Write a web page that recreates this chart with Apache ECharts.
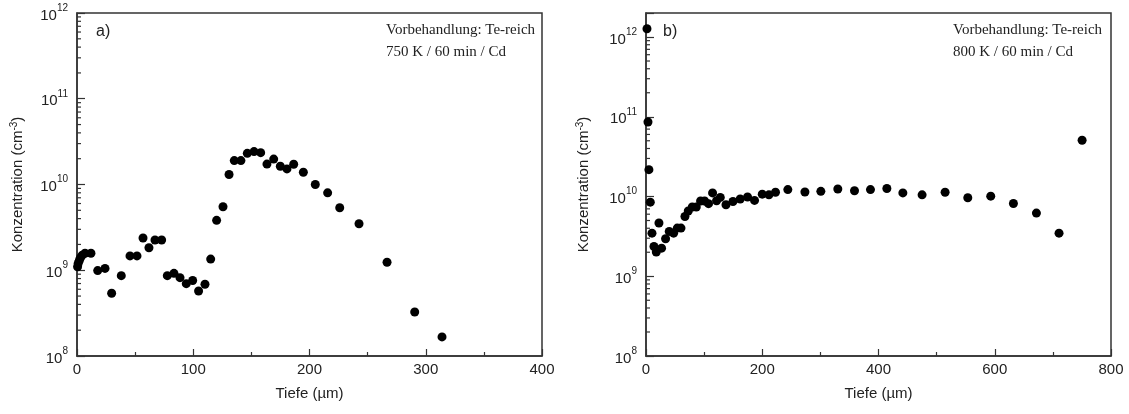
<!DOCTYPE html>
<html>
<head>
<meta charset="utf-8">
<script src="https://cdn.jsdelivr.net/npm/echarts@6/dist/echarts.min.js"></script>
<style>
html, body { margin: 0; padding: 0; background: #fff; }
#chart { width: 1129px; height: 414px; }
</style>
</head>
<body>
<div id="chart"></div>
<script>
// a) 750 K / 60 min / Cd
const depthA = [0.5, 1, 2, 3, 4.5, 6.9, 12, 17.8, 24.1, 29.8, 38.1, 45.6, 51.6, 56.8, 61.9, 67.1, 72.8,
    77.7, 83.4, 88.6, 94, 99.5, 104.6, 110.1, 115, 120.1, 125.6, 130.8, 135.3, 141, 146.5, 152.3, 158,
    163.4, 169.2, 174.9, 180.6, 186.4, 194.7, 205, 215.6, 226, 242.6, 266.7, 290.5, 314]
const concA = [1.1e9, 1.2e9, 1.3e9, 1.4e9, 1.5e9, 1.58e9, 1.58e9, 9.9e8, 1.05e9, 5.4e8, 8.65e8, 1.47e9, 1.47e9,
    2.38e9, 1.83e9, 2.25e9, 2.25e9, 8.65e8, 9.2e8, 8.2e8, 6.97e8, 7.6e8, 5.73e8, 6.86e8, 1.35e9, 3.82e9, 5.5e9,
    1.31e10, 1.9e10, 1.9e10, 2.31e10, 2.42e10, 2.35e10, 1.73e10, 1.98e10, 1.63e10, 1.52e10, 1.72e10, 1.39e10,
    1.0e10, 8.0e9, 5.36e9, 3.49e9, 1.24e9, 3.26e8, 1.67e8]

// b) 800 K / 60 min / Cd
const depthB = [1.7, 3.4, 5, 7.4, 10.3, 13.7, 17.7, 22.3, 26.8, 33.7, 40, 47.5, 53.8, 60.2, 67, 72.7, 79.6,
    86.5, 93.9, 100.8, 107.6, 114.5, 121.4, 127.8, 137.6, 149.6, 162.1, 174.7, 186.7, 200, 211.5, 222.8, 244,
    273.4, 300.8, 330, 358.7, 386.2, 414.4, 441.9, 475, 514.6, 553.6, 593.1, 632.1, 671.7, 710.6, 750.3]
const concB = [1.27e12, 8.6e10, 2.17e10, 8.5e9, 3.47e9, 2.36e9, 2.01e9, 4.65e9, 2.25e9, 2.95e9, 3.65e9, 3.47e9,
    4.02e9, 4.02e9, 5.62e9, 6.58e9, 7.38e9, 7.38e9, 8.77e9, 8.77e9, 8.13e9, 1.11e10, 8.85e9, 9.75e9, 7.89e9,
    8.67e9, 9.29e9, 9.86e9, 8.94e9, 1.07e10, 1.05e10, 1.13e10, 1.22e10, 1.14e10, 1.16e10, 1.24e10, 1.18e10,
    1.22e10, 1.26e10, 1.11e10, 1.05e10, 1.13e10, 9.66e9, 1.01e10, 8.18e9, 6.2e9, 3.47e9, 5.07e10]

const decades = [8, 9, 10, 11]
const minorFactors = [2, 3, 4, 5, 6, 7, 8, 9]

const axisColor = '#333'
const sans = 'Liberation Sans'
const serif = 'Liberation Serif'

let chart = echarts.init(document.getElementById('chart'))

let minorValues = []
decades.forEach(d => minorFactors.forEach(k => minorValues.push([0, k * Math.pow(10, d)])))

function xAxisOf(idx, max, interval) {
    return {
        type: 'value',
        gridIndex: idx,
        min: 0,
        max: max,
        interval: interval,
        name: 'Tiefe (µm)',
        nameLocation: 'middle',
        nameGap: 30,
        nameTextStyle: { fontFamily: sans, fontSize: 15, color: '#222' },
        axisLine: { lineStyle: { color: axisColor, width: 1.5 } },
        axisTick: { inside: true, length: 7, lineStyle: { color: axisColor, width: 1.2 } },
        minorTick: { show: true, splitNumber: 2, length: 4, lineStyle: { color: axisColor, width: 1.2 } },
        axisLabel: { fontFamily: sans, fontSize: 15, color: '#222', margin: 6 },
        splitLine: { show: false }
    }
}

function yAxisOf(idx, max, gap) {
    return {
        type: 'log',
        logBase: 10,
        gridIndex: idx,
        min: 1e8,
        max: max,
        name: 'Konzentration (cm{s|-3})',
        nameLocation: 'middle',
        nameGap: gap,
        nameTextStyle: {
            fontFamily: sans, fontSize: 15, color: '#222',
            rich: { s: { fontFamily: sans, fontSize: 10, color: '#222', verticalAlign: 'top', lineHeight: 18 } }
        },
        axisLine: { lineStyle: { color: axisColor, width: 1.5 } },
        axisTick: { inside: true, length: 8, lineStyle: { color: axisColor, width: 1.2 } },
        axisLabel: {
            margin: 9,
            formatter: (v) => {
                let e = Math.log10(v)
                if (Math.abs(e - Math.round(e)) > 1e-6) return ''
                return '{b|10}{s|' + Math.round(e) + '}'
            },
            rich: {
                b: { fontFamily: sans, fontSize: 15, color: '#222', lineHeight: 20, verticalAlign: 'bottom' },
                s: { fontFamily: sans, fontSize: 10, color: '#222', lineHeight: 20, verticalAlign: 'top' }
            }
        },
        splitLine: { show: false }
    }
}

function pairs(xs, ys) {
    return xs.map((x, i) => [x, ys[i]])
}

// minor ticks of the log axes at 2..9 per decade, placed via the axis scale
function minorSeries(idx) {
    return {
        type: 'custom',
        xAxisIndex: idx,
        yAxisIndex: idx,
        silent: true,
        data: minorValues,
        renderItem: (params, api) => {
            let p = api.coord([api.value(0), api.value(1)])
            return {
                type: 'line',
                shape: { x1: p[0], y1: p[1], x2: p[0] + 4, y2: p[1] },
                style: { stroke: axisColor, lineWidth: 1.2 }
            }
        }
    }
}

function dots(idx, xs, ys) {
    return {
        type: 'scatter',
        xAxisIndex: idx,
        yAxisIndex: idx,
        symbolSize: 9,
        clip: false,
        itemStyle: { color: '#000', opacity: 1 },
        data: pairs(xs, ys)
    }
}

function note(x, y, text, font, size) {
    return {
        type: 'text',
        left: x,
        top: y,
        style: { text: text, fontFamily: font, fontSize: size, fill: '#222' }
    }
}

let option = {
    animation: false,
    grid: [
        { left: 77, top: 13, width: 465, height: 343, show: true, borderColor: axisColor, borderWidth: 1.5 },
        { left: 646, top: 13, width: 465, height: 343, show: true, borderColor: axisColor, borderWidth: 1.5 }
    ],
    xAxis: [xAxisOf(0, 400, 100), xAxisOf(1, 800, 200)],
    yAxis: [yAxisOf(0, 1e12, 50), yAxisOf(1, 2e12, 53)],
    series: [
        minorSeries(0),
        minorSeries(1),
        dots(0, depthA, concA),
        dots(1, depthB, concB)
    ],
    graphic: [
        note(96, 24, 'a)', sans, 16),
        note(386, 23, 'Vorbehandlung: Te-reich', serif, 15),
        note(386, 45, '750 K / 60 min / Cd', serif, 15),
        note(663, 24, 'b)', sans, 16),
        note(953, 23, 'Vorbehandlung: Te-reich', serif, 15),
        note(953, 45, '800 K / 60 min / Cd', serif, 15)
    ]
}
chart.setOption(option)
</script>
</body>
</html>
